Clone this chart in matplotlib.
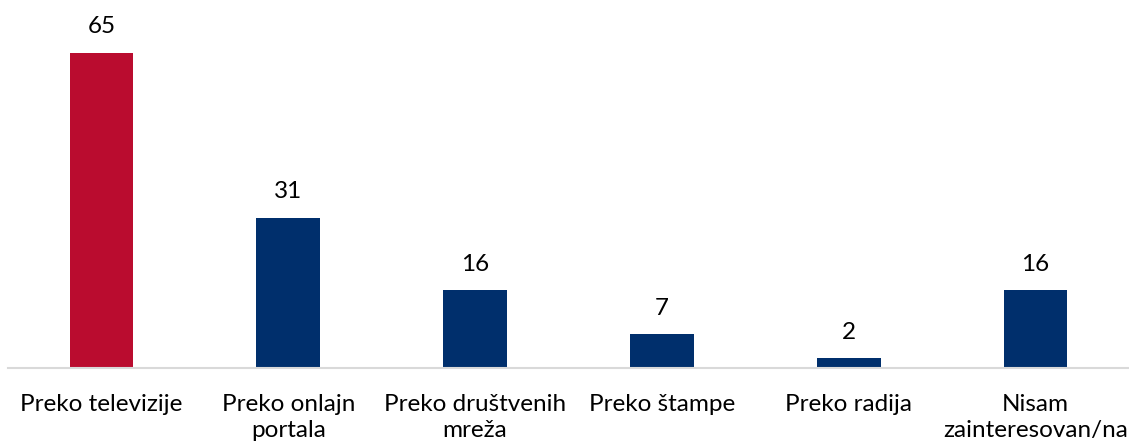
import matplotlib.pyplot as plt

categories = ['Preko televizije', 'Preko onlajn\nportala', 'Preko društvenih\nmreža',
              'Preko štampe', 'Preko radija', 'Nisam\nzainteresovan/na']
values = [65, 31, 16, 7, 2, 16]
colors = ['#BA0C2F', '#002F6C', '#002F6C', '#002F6C', '#002F6C', '#002F6C']

plt.rcParams['font.family'] = ['Lato', 'DejaVu Sans']

fig = plt.figure(figsize=(11.29, 4.43), dpi=100)
# axes placed so baseline sits at y~368px
ax = fig.add_axes([8 / 1129, 1 - 368 / 443, 1121 / 1129, 364 / 443])

x = range(len(categories))
bars = ax.bar(x, values, width=0.34, color=colors, zorder=2)
for xi, v in zip(x, values):
    ax.annotate(str(v), (xi, v), xytext=(0, 18.5), textcoords='offset points',
                ha='center', va='center', fontsize=17.5, color='black')

ax.set_xlim(-0.5, len(categories) - 0.5)
ax.set_ylim(0, 75)
ax.set_xticks(list(x))
ax.set_xticklabels(categories, fontsize=17.5, linespacing=1.25)
ax.tick_params(axis='x', length=0, pad=19)
ax.set_yticks([])
for s in ['top', 'right', 'left']:
    ax.spines[s].set_visible(False)
ax.spines['bottom'].set_color('#D9D9D9')
ax.spines['bottom'].set_linewidth(1.5)

fig.savefig('out.png', dpi=100)
